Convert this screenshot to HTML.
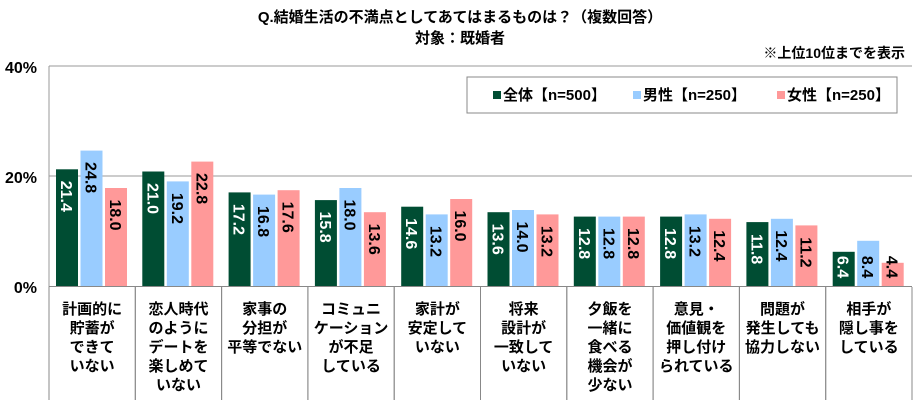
<!DOCTYPE html>
<html><head><meta charset="utf-8"><style>
body{margin:0;background:#fff;}
svg{display:block;font-family:"Liberation Sans","Noto Sans CJK JP",sans-serif;font-weight:bold;}
</style></head><body>
<svg id="s" width="920" height="401" viewBox="0 0 920 401" xmlns="http://www.w3.org/2000/svg">
<text x="460" y="22" font-size="15" text-anchor="middle">Q.結婚生活の不満点としてあてはまるものは？（複数回答）</text>
<text x="460" y="43" font-size="15" text-anchor="middle">対象：既婚者</text>
<text x="905" y="58" font-size="14" text-anchor="end">※上位10位までを表示</text>
<line x1="49" y1="66" x2="912" y2="66" stroke="#999" stroke-width="1"/>
<line x1="49" y1="176" x2="912" y2="176" stroke="#999" stroke-width="1"/>
<line x1="49" y1="66" x2="49" y2="287" stroke="#999" stroke-width="1"/>
<text x="37" y="73" font-size="16" text-anchor="end">40%</text>
<text x="37" y="183" font-size="16" text-anchor="end">20%</text>
<text x="37" y="293" font-size="16" text-anchor="end">0%</text>
<g id="g"></g>
<line x1="49" y1="286.5" x2="912" y2="286.5" stroke="#888" stroke-width="1"/>
<rect x="467" y="77" width="430" height="36" fill="#fff" stroke="#888" stroke-width="1"/>
<rect x="493" y="91" width="8" height="8" fill="#004d33"/>
<text x="503" y="100" font-size="15">全体【n=500】</text>
<rect x="633" y="91" width="8" height="8" fill="#99ccff"/>
<text x="643" y="100" font-size="15">男性【n=250】</text>
<rect x="777" y="91" width="8" height="8" fill="#ff9999"/>
<text x="787" y="100" font-size="15">女性【n=250】</text>
</svg>
<script>
var d=[[21.4,24.8,18.0],[21.0,19.2,22.8],[17.2,16.8,17.6],[15.8,18.0,13.6],[14.6,13.2,16.0],[13.6,14.0,13.2],[12.8,12.8,12.8],[12.8,13.2,12.4],[11.8,12.4,11.2],[6.4,8.4,4.4]];
var L=[["計画的に","貯蓄が","できて","いない"],["恋人時代","のように","デートを","楽しめて","いない"],["家事の","分担が","平等でない"],["コミュニ","ケーション","が不足","している"],["家計が","安定して","いない"],["将来","設計が","一致して","いない"],["夕飯を","一緒に","食べる","機会が","少ない"],["意見・","価値観を","押し付け","られている"],["問題が","発生しても","協力しない"],["相手が","隠し事を","している"]];
var c=["#004d33","#99ccff","#ff9999"],tc=["#fff","#000","#000"];
var h="",W=86.3;
for(var i=0;i<10;i++){var x0=49+i*W;
h+='<line x1="'+(x0+W)+'" y1="287" x2="'+(x0+W)+'" y2="400" stroke="#888"/>';
h+='<line x1="'+x0+'" y1="287" x2="'+x0+'" y2="400" stroke="#888"/>';
for(var j=0;j<3;j++){var v=d[i][j],bx=x0+7+j*24.5,bh=v*5.5,by=287-bh;
h+='<rect x="'+bx+'" y="'+by+'" width="22" height="'+bh+'" fill="'+c[j]+'"/>';}
for(var j=0;j<3;j++){var v=d[i][j],bx=x0+7+j*24.5,bh=v*5.5,by=287-bh;
var cx=bx+11,cy=Math.min(by+27,267);
h+='<text font-size="16" fill="'+tc[j]+'" text-anchor="middle" transform="translate('+(cx-6)+','+cy+') rotate(90)">'+v.toFixed(1)+'</text>';}
for(var k=0;k<L[i].length;k++)h+='<text x="'+(x0+W/2)+'" y="'+(314+k*19)+'" font-size="15" text-anchor="middle">'+L[i][k]+'</text>';}
document.getElementById("g").innerHTML=h;
</script>
</body></html>
